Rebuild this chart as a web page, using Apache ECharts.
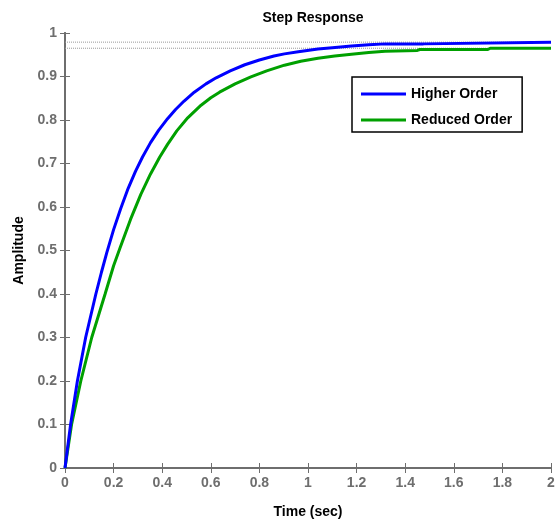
<!DOCTYPE html>
<html>
<head>
<meta charset="utf-8">
<script src="https://cdn.jsdelivr.net/npm/echarts@6/dist/echarts.min.js"></script>
<style>html,body{margin:0;padding:0;background:#fff;}#c{width:560px;height:520px;}</style>
</head>
<body>
<div id="c"></div>
<script>
var title = 'Step Response';
var xName = 'Time (sec)';
var yName = 'Amplitude';
var seriesNames = ['Higher Order', 'Reduced Order'];

var timeHigher = [0, 0.023, 0.051, 0.085, 0.127, 0.15, 0.172, 0.2, 0.229, 0.26, 0.29, 0.319, 0.352, 0.385, 0.422, 0.455, 0.489, 0.532, 0.58, 0.622, 0.68, 0.74, 0.8, 0.86, 0.903, 0.96, 1.041, 1.1, 1.179, 1.25, 1.317, 1.475, 1.48, 2.0];
var higherOrder = [0, 0.1, 0.2, 0.3, 0.4, 0.45, 0.495, 0.548, 0.596, 0.643, 0.682, 0.715, 0.748, 0.776, 0.803, 0.824, 0.843, 0.864, 0.883, 0.897, 0.913, 0.927, 0.938, 0.947, 0.952, 0.957, 0.963, 0.966, 0.970, 0.973, 0.975, 0.975, 0.979, 0.979];

var timeReduced = [0, 0.027, 0.065, 0.11, 0.165, 0.2, 0.226, 0.27, 0.312, 0.352, 0.39, 0.422, 0.46, 0.505, 0.56, 0.6, 0.636, 0.7, 0.765, 0.83, 0.903, 0.97, 1.041, 1.11, 1.179, 1.25, 1.317, 1.45, 1.46, 1.74, 1.75, 2.0];
var reducedOrder = [0, 0.1, 0.2, 0.3, 0.4, 0.465, 0.505, 0.572, 0.629, 0.676, 0.715, 0.744, 0.775, 0.805, 0.834, 0.851, 0.864, 0.883, 0.899, 0.913, 0.926, 0.935, 0.942, 0.947, 0.951, 0.955, 0.958, 0.96, 0.962, 0.962, 0.965, 0.965];

var steadyState = [0.979, 0.965];
var xRange = [0, 2];
var yRange = [0, 1];

function pairs(xs, ys) { return xs.map(function (x, i) { return [x, ys[i]]; }); }

var axisGray = '#6e6e6e';
var fontFam = 'Liberation Sans, Arial, sans-serif';
var labelStyle = { color: '#6e6e6e', fontWeight: 'bold', fontSize: 14, fontFamily: fontFam };

var chart = echarts.init(document.getElementById('c'));
var series = [
  {
    name: seriesNames[0], type: 'line', xAxisIndex: 0, yAxisIndex: 0,
    data: pairs(timeHigher, higherOrder), showSymbol: false, symbol: 'none',
    lineStyle: { color: '#0000ff', width: 3 }, itemStyle: { color: '#0000ff' }, z: 5
  },
  {
    name: seriesNames[1], type: 'line', xAxisIndex: 0, yAxisIndex: 0,
    data: pairs(timeReduced, reducedOrder), showSymbol: false, symbol: 'none',
    lineStyle: { color: '#00a000', width: 3 }, itemStyle: { color: '#00a000' }, z: 4
  }
];
steadyState.forEach(function (v, i) {
  series.push({
    name: 'ss' + i, type: 'line', xAxisIndex: 0, yAxisIndex: 0, silent: true,
    data: [[xRange[0], v], [xRange[1], v]], showSymbol: false, symbol: 'none',
    lineStyle: { color: '#9a9a9a', width: 1, type: 'dotted' }, z: 2
  });
});

chart.setOption({
  animation: false,
  backgroundColor: '#fff',
  title: {
    text: title, left: 308, top: 6, textAlign: 'center',
    textStyle: { color: '#000', fontWeight: 'bold', fontSize: 14, fontFamily: fontFam }
  },
  legend: {
    data: seriesNames.map(function (n) { return { name: n, icon: 'rect' }; }),
    orient: 'vertical', left: 352, top: 77,
    itemWidth: 45, itemHeight: 3, itemGap: 12,
    padding: [10, 10, 5, 9],
    backgroundColor: '#fff', borderColor: '#000', borderWidth: 1.5,
    textStyle: { color: '#000', fontWeight: 'bold', fontSize: 14, lineHeight: 14, fontFamily: fontFam }
  },
  grid: { left: 65, right: 9, top: 33, bottom: 52, containLabel: false, outerBoundsMode: 'none' },
  xAxis: [
    {
      type: 'value', min: xRange[0], max: xRange[1], interval: 0.2, position: 'bottom',
      name: xName, nameLocation: 'middle', nameGap: 37,
      nameTextStyle: { color: '#000', fontWeight: 'bold', fontSize: 14, fontFamily: fontFam },
      axisLine: { show: true, lineStyle: { color: axisGray, width: 2 } },
      axisTick: { show: true, inside: true, length: 5, lineStyle: { color: axisGray, width: 1 } },
      axisLabel: Object.assign({ margin: 8 }, labelStyle),
      splitLine: { show: false }
    },
    {
      type: 'value', min: xRange[0], max: xRange[1], interval: 0.2, position: 'top',
      axisLine: { show: true, lineStyle: { color: axisGray, width: 2 } },
      axisTick: { show: true, inside: true, length: 5, lineStyle: { color: axisGray, width: 1 } },
      axisLabel: { show: false }, splitLine: { show: false }
    }
  ],
  yAxis: [
    {
      type: 'value', min: yRange[0], max: yRange[1], interval: 0.1, position: 'left',
      name: yName, nameLocation: 'middle', nameGap: 31, nameRotate: 90,
      nameTextStyle: { color: '#000', fontWeight: 'bold', fontSize: 14, fontFamily: fontFam },
      axisLine: { show: true, lineStyle: { color: axisGray, width: 2 } },
      axisTick: { show: true, inside: true, length: 5, lineStyle: { color: axisGray, width: 1 } },
      axisLabel: Object.assign({ margin: 8 }, labelStyle),
      splitLine: { show: false }
    },
    {
      type: 'value', min: yRange[0], max: yRange[1], interval: 0.1, position: 'right',
      axisLine: { show: true, lineStyle: { color: axisGray, width: 2 } },
      axisTick: { show: true, inside: true, length: 5, lineStyle: { color: axisGray, width: 1 } },
      axisLabel: { show: false }, splitLine: { show: false }
    }
  ],
  series: series
});
</script>
</body>
</html>
